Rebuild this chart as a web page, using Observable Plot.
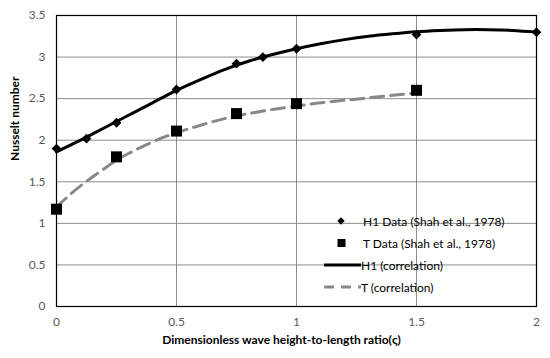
<!DOCTYPE html>
<html>
<head>
<meta charset="utf-8">
<script src="https://cdn.jsdelivr.net/npm/d3@7"></script>
<script src="https://cdn.jsdelivr.net/npm/@observablehq/plot@0.6"></script>
<style>
  html, body { margin: 0; padding: 0; background: #fff; }
  #wrap { position: relative; width: 550px; height: 358px; font-family: Lato, "Liberation Sans", sans-serif; }
  #legend { position: absolute; left: 318px; top: 210px; font-size: 12px; color: #000; }
  .row { height: 22px; display: flex; align-items: center; }
  .sym { width: 45px; height: 14px; display: inline-block; }
  .lbl { white-space: nowrap; }
</style>
</head>
<body>
<div id="wrap"></div>
<script>
// ---- data ----
const xTicks = [0, 0.5, 1, 1.5, 2];
const yTicks = [0, 0.5, 1, 1.5, 2, 2.5, 3, 3.5];

const h1DataX = [0, 0.125, 0.25, 0.5, 0.75, 0.86, 1.0, 1.5, 2.0];
const h1DataY = [1.9, 2.02, 2.21, 2.61, 2.92, 3.0, 3.1, 3.27, 3.3];

const tDataX = [0, 0.25, 0.5, 0.75, 1.0, 1.5];
const tDataY = [1.17, 1.8, 2.11, 2.32, 2.44, 2.6];

const h1CurveX = [0, 0.1, 0.2, 0.3, 0.4, 0.5, 0.6, 0.7, 0.8, 0.9, 1.0, 1.1, 1.2, 1.3, 1.4, 1.5, 1.6, 1.7, 1.8, 1.9, 2.0];
const h1CurveY = [1.86, 2.0, 2.15, 2.3, 2.45, 2.6, 2.73, 2.85, 2.95, 3.03, 3.1, 3.16, 3.21, 3.25, 3.28, 3.305, 3.32, 3.33, 3.33, 3.32, 3.30];

const tCurveX = [0, 0.1, 0.2, 0.25, 0.3, 0.4, 0.5, 0.6, 0.7, 0.8, 0.9, 1.0, 1.1, 1.2, 1.3, 1.4, 1.5];
const tCurveY = [1.2, 1.45, 1.66, 1.76, 1.84, 1.98, 2.09, 2.18, 2.26, 2.32, 2.37, 2.41, 2.45, 2.48, 2.51, 2.54, 2.57];

const legendLabels = ["H1 Data (Shah et al., 1978)", "T Data (Shah et al., 1978)", "H1 (correlation)", "T (correlation)"];
const xTitle = "Dimensionless wave height-to-length ratio(ς)";
const yTitle = "Nusselt number";

// ---- tables ----
const zip = (xs, ys) => xs.map((x, i) => ({x, y: ys[i]}));
const h1Data = zip(h1DataX, h1DataY);
const tData = zip(tDataX, tDataY);
const h1Curve = zip(h1CurveX, h1CurveY);
const tCurve = zip(tCurveX, tCurveY);

const font = "Lato, 'Liberation Sans', sans-serif";
const chart = Plot.plot({
  width: 550,
  height: 358,
  marginLeft: 56,
  marginRight: 14,
  marginTop: 15,
  marginBottom: 52,
  style: {fontFamily: font, background: "#fff"},
  x: {domain: [0, 2]},
  y: {domain: [0, 3.5]},
  marks: [
    Plot.gridX(xTicks, {stroke: "#8c8c8c", strokeOpacity: 1, strokeWidth: 1}),
    Plot.gridY(yTicks, {stroke: "#8c8c8c", strokeOpacity: 1, strokeWidth: 1}),
    Plot.frame({stroke: "#000", strokeWidth: 1.2}),
    Plot.axisX(xTicks, {tickSize: 0, tickPadding: 11, label: null, fontSize: 12, fill: "#595959", tickFormat: d => String(d)}),
    Plot.axisY(yTicks, {tickSize: 0, tickPadding: 11, label: null, fontSize: 12, fill: "#595959", tickFormat: d => String(d)}),
    Plot.line(tCurve, {x: "x", y: "y", stroke: "#888", strokeWidth: 3, strokeDasharray: "13,7", curve: "natural"}),
    Plot.line(h1Curve, {x: "x", y: "y", stroke: "#000", strokeWidth: 3, curve: "natural"}),
    Plot.dot(h1Data, {x: "x", y: "y", symbol: "diamond2", fill: "#000", stroke: "none", r: 4.4}),
    Plot.dot(tData, {x: "x", y: "y", symbol: "square", fill: "#000", stroke: "none", r: 6.2}),
    Plot.text([xTitle], {text: d => d, frameAnchor: "bottom", dy: 37, dx: -15, fontSize: 12, fontWeight: "bold", fill: "#000"}),
    Plot.text([yTitle], {text: d => d, frameAnchor: "left", dx: -41, rotate: -90, fontSize: 12, fontWeight: "bold", fill: "#000"})
  ]
});
const wrap = document.getElementById("wrap");
wrap.appendChild(chart);

// ---- legend (HTML overlay) ----
const syms = [
  `<svg class="sym" viewBox="0 0 45 14"><path d="M23,3.3 L26.7,7 L23,10.7 L19.3,7 Z" fill="#000"/></svg>`,
  `<svg class="sym" viewBox="0 0 45 14"><rect x="19.5" y="3" width="8" height="8" fill="#000"/></svg>`,
  `<svg class="sym" viewBox="0 0 45 14"><line x1="6" y1="7" x2="43" y2="7" stroke="#000" stroke-width="3"/></svg>`,
  `<svg class="sym" viewBox="0 0 45 14"><line x1="6" y1="7" x2="43" y2="7" stroke="#888" stroke-width="3" stroke-dasharray="10,7"/></svg>`
];
const legend = document.createElement("div");
legend.id = "legend";
legend.innerHTML = legendLabels.map((l, i) =>
  `<div class="row">${syms[i]}<span class="lbl" style="margin-left:${i < 2 ? 0 : -2}px">${l}</span></div>`).join("");
wrap.appendChild(legend);
</script>
</body>
</html>
